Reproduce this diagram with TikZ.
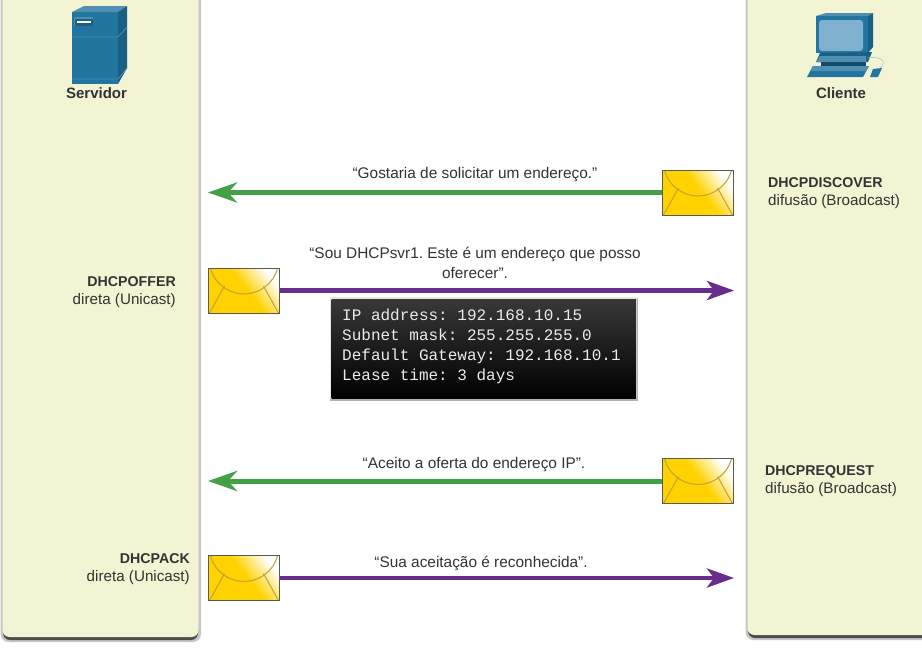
\documentclass[tikz,border=0pt]{standalone}
\usepackage{fontspec}
\setmainfont{Liberation Sans}
\setmonofont{Liberation Mono}
\usetikzlibrary{arrows.meta,calc}
\definecolor{panelfill}{HTML}{F3F4D3}
\definecolor{arrowgreen}{HTML}{43A047}
\definecolor{arrowpurple}{HTML}{682C8C}
\definecolor{srvblue}{HTML}{22759F}
\definecolor{srvdark}{HTML}{1A5F84}
\definecolor{srvlight}{HTML}{4F90B2}
\definecolor{screenblue}{HTML}{7FB1CF}
\definecolor{mailgold}{HTML}{FFD200}
\definecolor{mailline}{HTML}{C2A032}
\definecolor{labeltext}{HTML}{333333}
\pgfdeclareverticalshading{mailshade}{100bp}{color(0bp)=(mailgold); color(52bp)=(mailgold); color(75bp)=(white); color(100bp)=(white)}
\frenchspacing

\begin{document}
\begin{tikzpicture}[x=1pt,y=-1pt]
\tikzstyle panel=[fill=panelfill,rounded corners=7pt]
\tikzstyle paneledge=[fill=black!22,rounded corners=8pt]
\tikzstyle panelshadow=[fill=black!70,rounded corners=7pt]
\tikzstyle mailbox=[draw=black!65,line width=1pt,minimum width=71pt,minimum height=45pt,inner sep=0pt,
  shading=mailshade,shading angle=-52,
  path picture={
    \draw[mailline,line width=1pt] ($(path picture bounding box.north west)+(2,0)$)
      .. controls ($(path picture bounding box.north west)+(6,16)$) and ($(path picture bounding box.north)+(-15,26)$)
      .. ($(path picture bounding box.north)+(0,26)$)
      .. controls ($(path picture bounding box.north)+(15,26)$) and ($(path picture bounding box.north east)+(-6,16)$)
      .. ($(path picture bounding box.north east)+(-2,0)$);
    \draw[mailline,line width=1pt] ($(path picture bounding box.south west)+(1,0)$) -- ($(path picture bounding box.north west)+(16,18)$);
    \draw[mailline,line width=1pt] ($(path picture bounding box.south east)+(-1,0)$) -- ($(path picture bounding box.north east)+(-16,18)$);
  }]
\tikzstyle greenline=[arrowgreen,line width=5pt,-{Stealth[length=29pt,width=20pt,inset=9pt]}]
\tikzstyle purpleline=[arrowpurple,line width=4.5pt,-{Stealth[length=27pt,width=19pt,inset=7pt]}]
\tikzstyle quote=[text=labeltext,font=\fontsize{15.4}{20}\selectfont,align=center,inner sep=0pt]
\tikzstyle msgleft=[text=labeltext,font=\fontsize{15.2}{18}\selectfont,align=left,inner sep=0pt,anchor=west]
\tikzstyle msgright=[text=labeltext,font=\fontsize{15.2}{18}\selectfont,align=right,inner sep=0pt,anchor=east]
\tikzstyle hostname=[text=labeltext,font=\fontsize{15}{18}\selectfont\bfseries,inner sep=0pt]
\newcommand{\msgname}[1]{{\fontsize{14.2}{18}\selectfont\bfseries #1}}

\useasboundingbox (0,0) rectangle (922,649);
\fill[white] (0,0) rectangle (922,649);

% panels
\fill[paneledge] (0.5,-10) rectangle (201,642);
\fill[panelshadow] (3,-10) rectangle (198,640);
\fill[panel] (2.5,-10) rectangle (198.5,637);
\fill[paneledge] (745.5,-10) rectangle (932,640);
\fill[panelshadow] (748,-10) rectangle (932,638);
\fill[panel] (747.5,-10) rectangle (932,635);

% server
\fill[srvblue] (72,12) rectangle (118,84);
\fill[srvlight] (72,12) -- (84,6) -- (127,6) -- (118,12) -- cycle;
\fill[srvdark] (118,12) -- (127,6) -- (127,68) -- (118,84) -- cycle;
\draw[srvlight,line width=.8pt] (72,37) -- (118,37) -- (127,27);
\draw[srvlight,line width=.8pt] (72,79) -- (118,79) -- (127,68);
\fill[srvlight] (74,17) rectangle (93,26);
\fill[srvdark] (75,19) rectangle (93,26);
\fill[white] (77,20.5) rectangle (91,23);

% client
\fill[srvlight] (816,16) -- (826,13) -- (873,13) -- (868,16) -- cycle;
\fill[srvdark] (868,16) -- (873,13) -- (873,47) -- (868,53) -- cycle;
\fill[srvblue] (816,16) rectangle (868,53);
\fill[screenblue,rounded corners=3pt] (819,20) rectangle (863,51);
\fill[srvdark] (820,53) -- (872,52) -- (868,62) -- (816,62) -- cycle;
\fill[srvlight] (820,56) -- (866,56) -- (866,62) -- (816,62) -- cycle;
\fill[srvdark!80!black] (821,62) rectangle (866,67);
\fill[srvblue] (813,66) -- (869,66) -- (863,77) -- (807,77) -- cycle;
\fill[srvlight] (813,66) -- (869,66) -- (866,71) -- (810,71) -- cycle;
\fill[srvblue] (873,69) -- (882,68) -- (878,77) -- (870,77) -- cycle;
\draw[srvlight!50!white,line width=.6pt] (868,58) .. controls (878,56) and (889,60) .. (880,68);

% host names
\node[hostname] (srvname) at (96.5,93) {Servidor};
\node[hostname] (cliname) at (841,93) {Cliente};

% envelopes
\node[mailbox] (discovermail) at (698,192.5) {};
\node[mailbox] (offermail) at (244,290.5) {};
\node[mailbox] (requestmail) at (698,481) {};
\node[mailbox] (ackmail) at (244,578) {};

\coordinate (discoverend) at (208,192.5);
\coordinate (offerend) at (734,290.5);
\coordinate (requestend) at (208,481);
\coordinate (ackend) at (734,578);

% arrows
\draw[greenline] (discovermail.west) -- (discoverend);
\draw[purpleline] (offermail.east) -- (offerend);
\draw[greenline] (requestmail.west) -- (requestend);
\draw[purpleline] (ackmail.east) -- (ackend);

% quotes
\node[quote] (discoverquote) at (475,174.5) {“Gostaria de solicitar um endereço.”};
\node[quote] (offerquote) at (475,262.5) {“Sou DHCPsvr1. Este é um endereço que posso\\oferecer”.};
\node[quote] (requestquote) at (474,465) {“Aceito a oferta do endereço IP”.};
\node[quote] (ackquote) at (481,563) {“Sua aceitação é reconhecida”.};

% message labels
\node[msgleft] (discoverlabel) at (768,193) {\msgname{DHCPDISCOVER}\\difusão (Broadcast)};
\node[msgright] (offerlabel) at (176,292) {\msgname{DHCPOFFER}\\direta (Unicast)};
\node[msgleft] (requestlabel) at (765,481) {\msgname{DHCPREQUEST}\\difusão (Broadcast)};
\node[msgright] (acklabel) at (190,569) {\msgname{DHCPACK}\\direta (Unicast)};

% lease box
\fill[black!30] (330,298) rectangle (638,401);
\fill[white!90!black] (330,297) rectangle (637,399);
\fill[top color=black!78,bottom color=black] (331.5,299) rectangle (636,398);
\node[inner sep=0pt,anchor=north west,text=white!92!black,align=left,
  font=\ttfamily\fontsize{16}{20}\selectfont] (leasetext) at (342,308.5)
  {IP address: 192.168.10.15\\Subnet mask: 255.255.255.0\\Default Gateway: 192.168.10.1\\Lease time: 3 days};
\end{tikzpicture}
\end{document}
